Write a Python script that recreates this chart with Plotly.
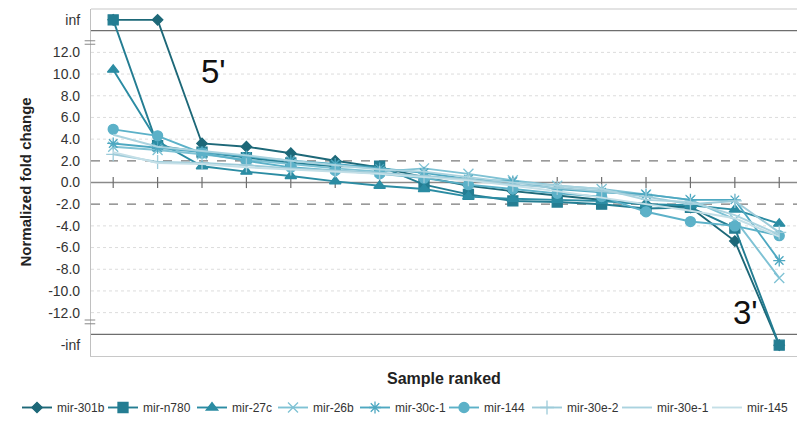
import math
import plotly.graph_objects as go

INF = math.inf

# Sample ranks along the x axis
ranks = list(range(1, 17))

# Normalized fold change per miRNA (inf / -inf are drawn on the break bands)
mir_301b = [INF, INF, 3.6, 3.3, 2.7, 2.0, 1.4, 0.5, -0.3, -0.8, -1.2, -1.6, -2.0, -2.3, -5.4, -INF]
mir_n780 = [INF, 3.4, 2.8, 2.3, 1.8, 1.5, 1.5, -0.2, -1.1, -1.7, -1.8, -2.0, -2.4, -2.3, -4.2, -INF]
mir_27c = [10.4, 3.8, 1.5, 1.0, 0.6, 0.1, -0.3, -0.6, -1.3, -1.5, -1.6, -1.7, -2.0, -2.1, -2.5, -3.8]
mir_26b = [3.3, 3.0, 2.6, 2.1, 1.7, 1.3, 1.0, 1.3, 0.8, 0.2, -0.3, -0.6, -1.1, -1.6, -3.4, -8.8]
mir_30c_1 = [3.6, 3.2, 2.8, 2.4, 2.0, 1.7, 1.3, 0.9, 0.3, 0.1, -0.6, -0.9, -1.1, -1.6, -1.6, -7.2]
mir_144 = [4.9, 4.3, 2.7, 2.0, 1.4, 1.1, 0.8, 0.4, -0.2, -0.6, -1.0, -1.3, -2.7, -3.6, -4.0, -4.9]
mir_30e_2 = [2.6, 1.9, 1.8, 1.6, 1.3, 1.1, 0.9, 0.6, 0.3, -0.2, -0.5, -0.8, -1.3, -2.0, -1.7, -4.6]
mir_30e_1 = [4.4, 3.3, 2.9, 2.5, 2.0, 1.6, 1.2, 1.0, 0.5, 0.0, -0.3, -0.6, -1.6, -1.8, -3.0, -4.8]
mir_145 = [2.8, 1.8, 1.7, 1.4, 1.2, 1.0, 0.8, 0.5, 0.2, -0.3, -0.8, -1.4, -2.0, -2.6, -3.3, -5.0]

series_names = ["mir-301b", "mir-n780", "mir-27c", "mir-26b", "mir-30c-1",
                "mir-144", "mir-30e-2", "mir-30e-1", "mir-145"]
series_values = [mir_301b, mir_n780, mir_27c, mir_26b, mir_30c_1,
                 mir_144, mir_30e_2, mir_30e_1, mir_145]

# Y tick labels: finite ticks plus the infinity bands
finite_ticks = [12, 10, 8, 6, 4, 2, 0, -2, -4, -6, -8, -10, -12]
INF_POS = 15.0    # axis position used for +inf
BREAK_POS = 14.0  # axis position of the break line

styles = [
    dict(color="#1d6878", symbol="diamond", size=8),
    dict(color="#247d92", symbol="square", size=10),
    dict(color="#2b8ca3", symbol="triangle-up", size=10),
    dict(color="#7fc2d4", symbol="x-thin-open", size=10),
    dict(color="#4ea8c1", symbol="asterisk-open", size=10),
    dict(color="#5cb1c8", symbol="circle", size=10),
    dict(color="#9dcbd9", symbol="cross-thin-open", size=10),
    dict(color="#aad3df", symbol=None, size=0),
    dict(color="#c4dfe7", symbol=None, size=0),
]

# left edge (px) of each legend entry's text, one legend per series
legend_text_px = [57, 143, 232, 313, 395, 484, 567, 657, 747]

PLOT_LEFT = 91
PLOT_W = 797 - PLOT_LEFT


def to_axis(v):
    if v == INF:
        return INF_POS
    if v == -INF:
        return -INF_POS
    return v


fig = go.Figure()

# Grid: dotted light lines, dashed at +/-2, solid zero line, break lines
grid_vals = [v for v in finite_ticks if v not in (0, 2, -2)]
for g in grid_vals:
    fig.add_shape(type="line", xref="paper", x0=0, x1=1, yref="y", y0=g, y1=g,
                  line=dict(color="#dcdcdc", width=1, dash="dot"), layer="below")
for g in (2, -2):
    fig.add_shape(type="line", xref="paper", x0=0, x1=1, yref="y", y0=g, y1=g,
                  line=dict(color="#7a7a7a", width=1.3, dash="dash"), layer="below")
fig.add_shape(type="line", xref="paper", x0=0, x1=1, yref="y", y0=0, y1=0,
              line=dict(color="#8a8a8a", width=1.6), layer="below")
for g in (BREAK_POS, -BREAK_POS):
    fig.add_shape(type="line", xref="paper", x0=0, x1=1, yref="y", y0=g, y1=g,
                  line=dict(color="#6e6e6e", width=1.2), layer="below")
# top frame
fig.add_shape(type="line", xref="paper", x0=0, x1=1, yref="paper", y0=1, y1=1,
              line=dict(color="#c8c8c8", width=1.2), layer="below")

# axis break marks on the y axis
for y0 in (13.07, 12.75, -12.68, -13.03):
    fig.add_shape(type="line", xref="paper", x0=-0.009, x1=0.006, yref="y", y0=y0, y1=y0,
                  line=dict(color="#888888", width=1))

# tick marks on the zero line at each sample
fig.add_trace(go.Scatter(
    x=ranks, y=[0] * len(ranks), mode="markers", showlegend=False, hoverinfo="skip",
    marker=dict(symbol="line-ns-open", size=8, color="#6e6e6e",
                line=dict(color="#6e6e6e", width=1.2)),
))

layout_legends = {}
for i, (name, vals, st) in enumerate(zip(series_names, series_values, styles)):
    yv = [to_axis(v) for v in vals]
    legend_id = "legend" if i == 0 else f"legend{i + 1}"
    if st["symbol"] is None:
        fig.add_trace(go.Scatter(x=ranks, y=yv, name=name, mode="lines", legend=legend_id,
                                 line=dict(color=st["color"], width=1.9)))
    else:
        fig.add_trace(go.Scatter(
            x=ranks, y=yv, name=name, mode="lines+markers", legend=legend_id,
            line=dict(color=st["color"], width=1.9),
            marker=dict(symbol=st["symbol"], size=st["size"], color=st["color"],
                        line=dict(color=st["color"], width=1.3)),
        ))
    left_px = legend_text_px[i] - 40
    layout_legends[legend_id] = dict(
        orientation="h", x=(left_px - PLOT_LEFT) / PLOT_W, xanchor="left",
        y=-0.148, yanchor="middle", font=dict(size=12, color="#333333"),
        itemwidth=30, bgcolor="rgba(0,0,0,0)",
    )

tickvals = [INF_POS] + finite_ticks + [-INF_POS]
ticktext = ["inf"] + [f"{v:.1f}" for v in finite_ticks] + ["-inf"]

fig.update_layout(
    width=797, height=422,
    margin=dict(l=PLOT_LEFT, r=0, t=9, b=65),
    paper_bgcolor="white", plot_bgcolor="white",
    font=dict(family="Liberation Sans, Arial, sans-serif", color="#333333"),
    xaxis=dict(range=[0.5, 16.4], showticklabels=False, ticks="", showgrid=False,
               zeroline=False, showline=True, linecolor="#c8c8c8", linewidth=1.2),
    yaxis=dict(range=[-16, 16], tickvals=tickvals, ticktext=ticktext,
               tickfont=dict(size=14, color="#333333"), showgrid=False, zeroline=False,
               showline=True, linecolor="#c0c0c0", linewidth=1.2,
               ticks="outside", ticklen=7, tickcolor="rgba(0,0,0,0)"),
    annotations=[
        dict(text="<b>Normalized fold change</b>", xref="paper", yref="paper",
             x=0, y=0.5, xshift=-66, xanchor="center", yanchor="middle",
             textangle=-90, showarrow=False, font=dict(size=15, color="#222222")),
        dict(text="<b>Sample ranked</b>", xref="paper", yref="paper",
             x=0.5, y=0, yshift=-22, xanchor="center", yanchor="middle",
             showarrow=False, font=dict(size=16, color="#222222")),
        dict(text="5'", xref="x", yref="y", x=3.25, y=10.2, showarrow=False,
             font=dict(size=33, color="#111111")),
        dict(text="3'", xref="x", yref="y", x=15.25, y=-11.95, showarrow=False,
             font=dict(size=33, color="#111111")),
    ],
    **layout_legends,
)

fig.write_html("out.html")
